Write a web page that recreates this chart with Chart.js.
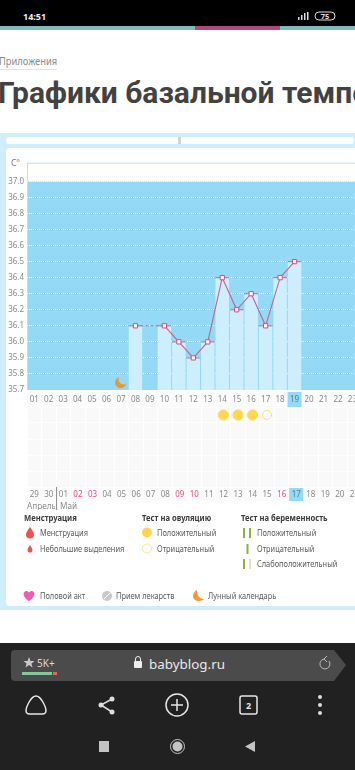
<!DOCTYPE html>
<html lang="ru">
<head>
<meta charset="utf-8">
<title>Графики базальной температуры</title>
<script src="https://cdn.jsdelivr.net/npm/chart.js@4"></script>
<style>
  html, body { margin: 0; padding: 0; background: #fff; }
  body { width: 355px; height: 770px; overflow: hidden; position: relative; font-family: "Noto Sans", sans-serif; }
  .abs { position: absolute; white-space: nowrap; line-height: 1; }
  .lg { font-size: 8.2px; color: #5b5b5b; transform: translateY(-50%) scaleX(0.905); transform-origin: left center; }
  .lh { font-size: 8.6px; font-weight: 700; color: #3c3c3c; transform: translateY(-50%) scaleX(0.89); transform-origin: left center; }
  .wrap { position: absolute; left: 0; width: 400px; }
  canvas { display: block; }
  svg { position: absolute; overflow: visible; }
</style>
</head>
<body>
<div class="abs" style="left:0;top:0;width:355px;height:26px;background:#000"></div>
<div class="abs" style="left:0;top:26px;width:355px;height:4px;background:#7fbcb8"></div>
<div class="abs" style="left:195px;top:26px;width:85px;height:4px;background:#b0487f"></div>
<div class="abs" style="left:23px;top:12px;font-size:9px;font-weight:700;color:#eee">14:51</div>
<svg style="left:292px;top:11px" width="45" height="11">
  <rect x="6" y="6" width="1.5" height="3" fill="#ddd"/><rect x="9" y="4" width="1.5" height="5" fill="#ddd"/><rect x="12" y="2" width="1.5" height="7" fill="#ddd"/><rect x="15" y="1" width="1.5" height="8" fill="#ddd"/>
  <rect x="23" y="1" width="20" height="8" rx="4" fill="none" stroke="#ddd"/>
  <text x="33" y="8" font-size="7.5" font-weight="700" text-anchor="middle" fill="#ddd">75</text>
</svg>

<div class="abs" style="left:-1px;top:56px;font-size:10.5px;color:#8a8a8a;border-bottom:1px solid #e4e4e4;padding-bottom:2px;transform:scaleX(0.89);transform-origin:left">Приложения</div>
<div class="abs" style="left:-2px;top:78px;font-size:30px;font-weight:700;color:#424242;font-family:Roboto,sans-serif">Графики базальной температуры</div>

<div class="abs" style="left:0;top:133px;width:355px;height:477px;background:#cfeefa"></div>
<div class="abs" style="left:6px;top:137px;width:348px;height:7px;background:#fff;border-radius:4px"></div>
<div class="abs" style="left:178px;top:137px;width:3px;height:7px;background:#d4d4d4"></div>
<div class="abs" style="left:6px;top:148px;width:349px;height:458px;background:#fff;border-radius:4px 0 0 4px"></div>
<div class="abs" style="left:11px;top:159px;font-size:8.5px;color:#777">C°</div>

<div class="wrap" style="top:155px;height:252px"><canvas id="temp" width="362" height="252"></canvas></div>
<div class="wrap" style="top:407px;height:104px"><canvas id="tests" width="362" height="104"></canvas></div>

<div class="abs" style="left:27px;top:502px;width:28px;overflow:hidden;font-size:8.2px;color:#8a8a8a">Апрель</div>
<div class="abs" style="left:60px;top:502px;font-size:8.2px;color:#8a8a8a">Май</div>

<div class="abs lh" style="left:24px;top:518px">Менструация</div>
<div class="abs lh" style="left:142px;top:518px">Тест на овуляцию</div>
<div class="abs lh" style="left:241px;top:518px">Тест на беременность</div>

<svg style="left:0;top:0" width="355" height="610">
  <path d="M30 527 C32 530 34 532 34 534.5 A4 4 0 0 1 26 534.5 C26 532 28 530 30 527Z" fill="#ef5350"/>
  <path d="M30 545 C31 547 32.500 548 32.500 550 A2.500 2.500 0 0 1 27.500 550 C27.500 548 29 547 30 545Z" fill="#ef5350"/>
  <circle cx="147" cy="532.500" r="5" fill="#ffd54f"/>
  <circle cx="147" cy="548.500" r="4.500" fill="#fff" stroke="#ffe28a"/>
  <rect x="243" y="528" width="2" height="10" fill="#8bb33a"/><rect x="249" y="528" width="2" height="10" fill="#8bb33a"/>
  <rect x="246.500" y="544" width="2" height="10" fill="#8bb33a"/>
  <rect x="243" y="559" width="2" height="10" fill="#8bb33a"/><rect x="249" y="559" width="2" height="10" fill="#dbe6bd"/>
  <path d="M29 601 C21 596 23.500 591 26.500 591 C28 591 29 592 29 593 C29 592 30 591 31.500 591 C34.500 591 37 596 29 601Z" fill="#f25bb5"/>
  <circle cx="107" cy="596" r="5" fill="#c9c9c9"/><path d="M104 599 L110 593" stroke="#fff" stroke-width="1"/>
  <path d="M197 590 C197 596 200 599 204 599 C202 602 193 602 193 596 C193 593 195 591 197 590Z" fill="#f0983a"/>
</svg>
<div class="abs lg" style="left:40px;top:533px">Менструация</div>
<div class="abs lg" style="left:40px;top:549px">Небольшие выделения</div>
<div class="abs lg" style="left:157px;top:533px">Положительный</div>
<div class="abs lg" style="left:157px;top:549px">Отрицательный</div>
<div class="abs lg" style="left:257px;top:533px">Положительный</div>
<div class="abs lg" style="left:257px;top:549px">Отрицательный</div>
<div class="abs lg" style="left:257px;top:564px">Слабоположительный</div>
<div class="abs lg" style="left:40px;top:596px">Половой акт</div>
<div class="abs lg" style="left:116px;top:596px">Прием лекарств</div>
<div class="abs lg" style="left:208px;top:596px">Лунный календарь</div>

<div class="abs" style="left:0;top:643px;width:355px;height:127px;background:#212121"></div>
<svg style="left:0;top:643px" width="355" height="127">
  <path d="M15 7 H334 L346 22 L334 38 H15 A4 4 0 0 1 11 34 V11 A4 4 0 0 1 15 7Z" fill="#4b4b4b"/>
  <path d="M29 14 L30.500 18 H34.500 L31.500 20.500 L32.500 24.500 L29 22 L25.500 24.500 L26.500 20.500 L23.500 18 H27.500Z" fill="#c8c8c8"/>
  <text x="37" y="24" font-size="10" fill="#d8d8d8">5K+</text>
  <rect x="22" y="29" width="30" height="3" fill="#82c99a"/><rect x="53" y="29" width="4" height="3" fill="#e4655a"/>
  <rect x="134" y="18" width="8" height="7" rx="1" fill="#eee"/><path d="M135.500 18 V16 A2.500 2.500 0 0 1 140.500 16 V18" fill="none" stroke="#eee"/>
  <text x="149" y="26" font-size="13.400" fill="#e8e8e8">babyblog.ru</text>
  <path d="M329 18 A5 5 0 1 1 324 16 M324 16 L327 13 M324 16 L327 19" fill="none" stroke="#bbb"/>
  <path d="M36 53 C31 53 26 64 26 68 C26 72 30 71 36 71 C42 71 46 72 46 68 C46 64 41 53 36 53Z" fill="none" stroke="#e6e6e6" stroke-width="1.500"/>
  <path d="M112 56 L101 62 L112 69" fill="none" stroke="#ddd" stroke-width="1.500"/>
  <circle cx="112" cy="56" r="2.500" fill="#ddd"/><circle cx="101" cy="62" r="2.500" fill="#ddd"/><circle cx="112" cy="69" r="2.500" fill="#ddd"/>
  <circle cx="177" cy="62" r="11" fill="none" stroke="#e6e6e6" stroke-width="1.500"/>
  <path d="M171 62 H183 M177 56 V68" stroke="#e6e6e6" stroke-width="1.500"/>
  <rect x="240" y="53" width="17" height="18" rx="2" fill="none" stroke="#e6e6e6" stroke-width="1.500"/>
  <text x="248.500" y="66" font-size="9" font-weight="700" text-anchor="middle" fill="#e6e6e6">2</text>
  <circle cx="320" cy="54" r="2" fill="#ddd"/><circle cx="320" cy="62" r="2" fill="#ddd"/><circle cx="320" cy="70" r="2" fill="#ddd"/>
  <rect x="99" y="98" width="10" height="11" fill="#c4c4c4"/>
  <circle cx="177.500" cy="103.500" r="7" fill="none" stroke="#c4c4c4"/><circle cx="177.500" cy="103.500" r="5" fill="#c4c4c4"/>
  <path d="M255 98 V109 L245 103.500Z" fill="#c4c4c4"/>
</svg>

<script>
const cycleDays = ['01','02','03','04','05','06','07','08','09','10','11','12','13','14','15','16','17','18','19','20','21','22','23'];
const calendarDays = ['29','30','01','02','03','04','05','06','07','08','09','10','11','12','13','14','15','16','17','18','19','20','21'];
const tempTicks = [35.7,35.8,35.9,36.0,36.1,36.2,36.3,36.4,36.5,36.6,36.7,36.8,36.9,37.0];
const temps = [null,null,null,null,null,null,null,36.1,null,36.1,36.0,35.9,36.0,36.4,36.2,36.3,36.1,36.4,36.5,null,null,null,null];
const moonValues = [null,null,null,null,null,null,35.75,null,null,null,null,null,null,null,null,null,null,null,null,null,null,null,null];
const redDays = ['02','03','09','10','16'];
const todayCycle = '19';
const todayCalendar = '17';
const ovulationPositive = ['12','13','14'];
const ovulationNegative = ['15'];

const font = { family: '"Noto Sans", sans-serif', size: 8 };
const pink = '#c9608f';

// little orange moon for the point style
const moon = document.createElement('canvas');
moon.width = 14; moon.height = 14;
const m = moon.getContext('2d');
m.fillStyle = '#e8982f';
m.beginPath();
m.arc(6.5, 7.5, 5.5, 0, Math.PI * 2);
m.fill();
m.globalCompositeOperation = 'destination-out';
m.beginPath();
m.arc(9.5, 4.5, 5, 0, Math.PI * 2);
m.fill();

const tempBackground = {
  id: 'tempBackground',
  beforeDraw(chart) {
    const { ctx, chartArea: a, scales } = chart;
    const top = scales.y.getPixelForValue(37.0);
    ctx.save();
    ctx.fillStyle = '#fefefa';
    ctx.fillRect(a.left, a.top, a.width, top - a.top);
    ctx.fillStyle = '#94d9f5';
    ctx.fillRect(a.left, top, a.width, a.bottom - top);
    ctx.fillStyle = '#fbfbfb';
    ctx.fillRect(a.left, a.bottom, a.width, 17);
    ctx.fillStyle = '#b5e3f5';
    ctx.fillRect(a.left, a.top, a.width, 1);
    ctx.fillRect(a.left, a.top, 1, a.height);
    const x = scales.x.getPixelForValue(todayCycle);
    ctx.fillStyle = '#94d9f5';
    ctx.fillRect(x - 7, a.bottom + 2, 14, 15);
    ctx.restore();
  }
};

const testsBackground = {
  id: 'testsBackground',
  beforeDraw(chart) {
    const { ctx, chartArea: a, scales } = chart;
    ctx.save();
    ctx.fillStyle = '#f9f9f9';
    ctx.fillRect(a.left, a.top, a.width, a.height);
    ctx.fillStyle = '#fbfbfb';
    ctx.fillRect(a.left, a.bottom, a.width, 14);
    const x = scales.x.getPixelForValue(todayCalendar);
    ctx.fillStyle = '#94d9f5';
    ctx.fillRect(x - 7, a.bottom, 14, 14);
    ctx.restore();
  },
  afterDraw(chart) {
    const { ctx, chartArea: a, scales } = chart;
    const x = scales.x.getPixelForValue('01') - 7.3;
    ctx.save();
    ctx.fillStyle = '#8a8a8a';
    ctx.fillRect(x, a.bottom, 1, 23);
    ctx.restore();
  }
};

new Chart(document.getElementById('temp'), {
  type: 'bar',
  data: {
    labels: cycleDays,
    datasets: [
      { data: temps, backgroundColor: '#cdeefd', barPercentage: 0.93, categoryPercentage: 1, order: 4 },
      { type: 'line', data: temps, showLine: false, pointStyle: 'line', pointRadius: 7, pointHoverRadius: 7,
        pointBorderColor: pink, pointBorderWidth: 1, order: 3 },
      { type: 'line', data: temps, spanGaps: true, borderColor: pink, borderWidth: 1.1, tension: 0,
        segment: { borderDash: ctx => (ctx.p0.skip || ctx.p1.skip) ? [3, 2] : undefined },
        pointStyle: 'rect', pointRadius: 3, pointBackgroundColor: '#fff', pointBorderColor: '#d9477f', pointBorderWidth: 1, order: 2 },
      { type: 'line', data: moonValues, showLine: false, pointStyle: moon, order: 1 }
    ]
  },
  options: {
    responsive: false,
    animation: false,
    layout: { autoPadding: false, padding: { top: 7 } },
    plugins: { legend: { display: false }, tooltip: { enabled: false } },
    scales: {
      x: {
        offset: true,
        grid: { display: false, drawTicks: false },
        border: { display: false },
        ticks: {
          autoSkip: false, maxRotation: 0, padding: 5, font,
          color: c => cycleDays[c.index] === todayCycle ? '#4d7f95' : '#8a8a8a'
        },
        afterFit(scale) { scale.height = 17; }
      },
      y: {
        min: 35.7,
        max: 37.116,
        afterBuildTicks(scale) { scale.ticks = tempTicks.map(value => ({ value })); },
        grid: { color: 'rgba(255,255,255,0.85)', drawTicks: false },
        border: { display: false, dash: [1, 1] },
        ticks: { padding: 3, font, color: '#8a8a8a', callback: v => v.toFixed(1) },
        afterFit(scale) { scale.width = 27; }
      }
    }
  },
  plugins: [tempBackground]
});

new Chart(document.getElementById('tests'), {
  type: 'line',
  data: {
    labels: calendarDays,
    datasets: [
      { data: ovulationPositive.map(x => ({ x, y: 4.5 })), showLine: false, pointRadius: 5, pointHoverRadius: 5,
        pointBackgroundColor: '#ffd84d', pointBorderColor: '#ffd84d' },
      { data: ovulationNegative.map(x => ({ x, y: 4.5 })), showLine: false, pointRadius: 4.5, pointHoverRadius: 4.5,
        pointBackgroundColor: '#fff', pointBorderColor: '#ffdf7a', pointBorderWidth: 1 }
    ]
  },
  options: {
    responsive: false,
    animation: false,
    layout: { autoPadding: false, padding: { bottom: 10 } },
    plugins: { legend: { display: false }, tooltip: { enabled: false } },
    scales: {
      x: {
        offset: true,
        grid: { offset: true, color: '#fff', drawTicks: false },
        border: { display: false },
        ticks: {
          autoSkip: false, maxRotation: 0, padding: 3, font,
          color: c => {
            const day = calendarDays[c.index];
            if (day === todayCalendar) return '#4d7f95';
            return redDays.includes(day) ? '#e8507f' : '#8a8a8a';
          }
        },
        afterFit(scale) { scale.height = 14; }
      },
      y: {
        min: 0,
        max: 5,
        grid: { color: '#fff', drawTicks: false },
        border: { display: false },
        ticks: { stepSize: 1, display: false },
        afterFit(scale) { scale.width = 27; }
      }
    }
  },
  plugins: [testsBackground]
});
</script>
</body>
</html>
